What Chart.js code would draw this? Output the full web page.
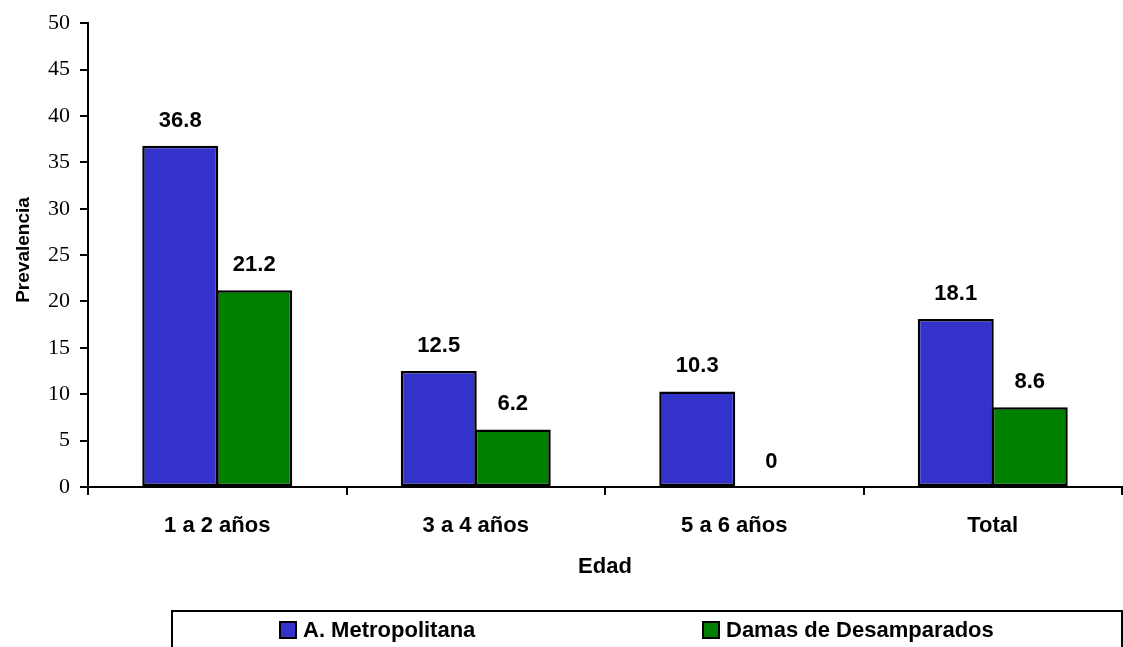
<!DOCTYPE html>
<html>
<head>
<meta charset="utf-8">
<script src="https://cdn.jsdelivr.net/npm/chart.js@4/dist/chart.umd.min.js"></script>
<style>
  body { margin: 0; background: #fff; }
  canvas { display: block; }
</style>
</head>
<body>
<canvas id="chart" width="1123" height="647"></canvas>
<script>
//  DATA
var categories = ["1 a 2 años", "3 a 4 años", "5 a 6 años", "Total"];
var metropolitana = [36.8, 12.5, 10.3, 18.1];
var damas = [21.2, 6.2, 0, 8.6];
var seriesNames = ["A. Metropolitana", "Damas de Desamparados"];
var yTicks = [0, 5, 10, 15, 20, 25, 30, 35, 40, 45, 50];

var BOLD = "'Liberation Sans', Arial, sans-serif";
var SERIF = "'Liberation Serif', 'Times New Roman', serif";

//  EXTRAS: value labels, axis titles, legend box
var extras = {
  id: "extras",
  afterDraw: function (chart) {
    var ctx = chart.ctx;
    var area = chart.chartArea;
    ctx.save();
    ctx.fillStyle = "#000";

    // value labels over bars
    ctx.font = "bold 22px " + BOLD;
    ctx.textAlign = "center";
    ctx.textBaseline = "alphabetic";
    chart.data.datasets.forEach(function (ds, di) {
      var meta = chart.getDatasetMeta(di);
      meta.data.forEach(function (bar, i) {
        ctx.fillText(String(ds.data[i]), bar.x, bar.y - 19);
      });
    });

    // x title
    ctx.fillText("Edad", (area.left + area.right) / 2, 573);

    // y title
    ctx.save();
    ctx.translate(24, 250);
    ctx.rotate(-Math.PI / 2);
    ctx.font = "bold 19px " + BOLD;
    ctx.textBaseline = "middle";
    ctx.fillText("Prevalencia", 0, 0);
    ctx.restore();

    // legend box
    ctx.lineWidth = 2;
    ctx.strokeStyle = "#000";
    ctx.strokeRect(172, 611, 950, 60);

    var itemX = [280, 703];
    ctx.font = "bold 22px " + BOLD;
    ctx.textAlign = "left";
    chart.data.datasets.forEach(function (ds, di) {
      var x = itemX[di];
      ctx.fillStyle = ds.backgroundColor;
      ctx.fillRect(x, 622, 16, 16);
      ctx.lineWidth = 2;
      ctx.strokeRect(x, 622, 16, 16);
      ctx.fillStyle = "#000";
      ctx.fillText(ds.label, x + 23, 637);
    });
    ctx.restore();
  }
};

//  CHART
new Chart(document.getElementById("chart"), {
  type: "bar",
  data: {
    labels: categories,
    datasets: [
      {
        label: seriesNames[0],
        data: metropolitana,
        backgroundColor: "#3333CC",
        borderColor: "#000",
        borderWidth: 2.5,
        borderSkipped: false
      },
      {
        label: seriesNames[1],
        data: damas,
        backgroundColor: "#008000",
        borderColor: "#000",
        borderWidth: 2.5,
        borderSkipped: false
      }
    ]
  },
  options: {
    responsive: false,
    animation: false,
    events: [],
    layout: { padding: { left: 0, right: 1, top: 20, bottom: 0 } },
    datasets: {
      bar: { categoryPercentage: 0.5725, barPercentage: 1.027 }
    },
    plugins: {
      legend: { display: false },
      tooltip: { enabled: false }
    },
    scales: {
      x: {
        afterFit: function (s) { s.height = 160; },
        grid: {
          offset: true,
          drawOnChartArea: false,
          color: "#000",
          lineWidth: 2,
          tickLength: 8
        },
        border: { display: true, color: "#000", width: 2 },
        ticks: {
          color: "#000",
          padding: 18,
          font: { family: BOLD, size: 22, weight: "bold" }
        }
      },
      y: {
        min: 0,
        max: 50,
        afterFit: function (s) { s.width = 88; },
        afterBuildTicks: function (s) {
          s.ticks = yTicks.map(function (v) { return { value: v }; });
        },
        grid: {
          drawOnChartArea: false,
          color: "#000",
          lineWidth: 2,
          tickLength: 8
        },
        border: { display: true, color: "#000", width: 2 },
        ticks: {
          color: "#000",
          padding: 10,
          font: { family: SERIF, size: 22 }
        }
      }
    }
  },
  plugins: [extras]
});
</script>
</body>
</html>
